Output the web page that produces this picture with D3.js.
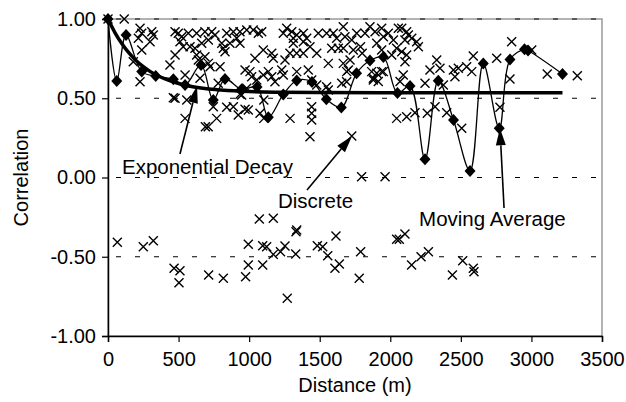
<!DOCTYPE html>
<html>
<head>
<meta charset="utf-8">
<script src="https://cdn.jsdelivr.net/npm/d3@7"></script>
<style>
  body { margin: 0; background: #fff; }
  text { font-family: Arial, "Liberation Sans", sans-serif; fill: #000; }
</style>
</head>
<body>
<svg id="chart"></svg>
<script>
let width = 626;
let height = 402;
let margin = {top: 19, right: 24, bottom: 66, left: 108};

// discrete correlations [distance, correlation]
let discrete = [
  [0,1.00],[115,1.00],[179,0.731],[227,0.604],[239,0.804],[227,0.941],[239,0.910],[215,0.878],
  [310,0.920],[321,0.899],[298,0.857],[439,0.710],
  [475,0.920],[498,0.910],[522,0.888],[569,0.910],[628,0.910],[687,0.920],[735,0.920],[758,0.899],
  [510,0.857],[533,0.825],[581,0.825],[616,0.815],[664,0.847],[711,0.868],[806,0.847],[817,0.815],
  [829,0.794],[864,0.847],[912,0.878],[935,0.847],[841,0.910],[888,0.920],[935,0.920],[983,0.931],
  [1029,0.931],[1065,0.910],[1089,0.920],
  [475,0.773],[628,0.773],[640,0.741],[687,0.762],[711,0.720],[723,0.699],[794,0.699],[781,0.594],
  [652,0.626],[546,0.647],[475,0.500],
  [1041,0.752],[1100,0.804],[1160,0.784],[1171,0.752],[1242,0.910],[1266,0.941],[1302,0.920],
  [1337,0.899],[1384,0.910],[1313,0.878],[1313,0.847],[1384,0.857],[1408,0.878],[1431,0.825],
  [1254,0.741],[1289,0.784],[1337,0.784],[1384,0.784],[1479,0.784],[1490,0.910],[1549,0.910],
  [1596,0.910],[1620,0.878],[1561,0.720],[1585,0.815],[1632,0.815],[1667,0.720],[1703,0.678],[1691,0.604],
  [971,0.678],[1006,0.668],[1018,0.636],[1054,0.615],[1100,0.647],[1136,0.668],[1160,0.636],[1183,0.604],
  [1231,0.678],[1242,0.647],[1337,0.668],[1419,0.678],[1443,0.615],[1479,0.584],[1549,0.573],
  [1561,0.552],[983,0.563],[947,0.521],[935,0.525],
  [463,0.503],[558,0.489],[546,0.373],[746,0.447],[770,0.373],[690,0.320],[710,0.320],[841,0.443],
  [888,0.447],[923,0.394],[971,0.430],[994,0.426],[1077,0.405],[1104,0.489],[1104,0.373],[1290,0.373],
  [1443,0.447],[1443,0.405],[1443,0.363],[1431,0.257],[1727,0.262],
  [1667,0.951],[1679,0.888],[1667,0.815],[1727,0.868],[1762,0.910],[1789,0.825],[1801,0.784],
  [1821,0.910],[1856,0.951],[1892,0.920],[1904,0.847],[1939,0.941],[1951,0.888],[1986,0.910],
  [2057,0.941],[2116,0.920],[2152,0.878],[2187,0.857],[2199,0.825],[2104,0.868],[2022,0.868],
  [1939,0.804],[1738,0.804],[1715,0.741],[2081,0.941],[2128,0.899],
  [1656,0.594],[1691,0.668],[1868,0.668],[1880,0.626],[1915,0.605],[1951,0.668],[2069,0.605],
  [2092,0.647],[2104,0.731],[2116,0.773],[2081,0.794],[2045,0.815],[2010,0.773],[1904,0.657],
  [1880,0.615],[1939,0.668],
  [2246,0.594],[2281,0.678],[2329,0.741],[2352,0.689],[2376,0.584],[2447,0.678],[2458,0.636],
  [2482,0.689],[2541,0.699],[2577,0.668],[2588,0.767],[2754,0.752],[2848,0.621],[2860,0.857],
  [3002,0.804],[3112,0.653],[3325,0.642],
  [2045,0.373],[2116,0.384],[2175,0.409],[2262,0.405],[2317,0.447],[2400,0.409],[2506,0.310],[2777,0.443],
  [1797,0.005],[1963,0.005],
  [66,-0.409],[250,-0.437],[321,-0.399],[468,-0.573],[510,-0.588],[503,-0.664],[713,-0.615],
  [817,-0.636],[975,-0.626],[994,-0.421],[994,-0.552],[1072,-0.262],[1096,-0.430],[1096,-0.552],
  [1124,-0.437],[1171,-0.257],[1171,-0.485],[1222,-0.468],[1254,-0.432],[1270,-0.762],[1332,-0.342],
  [1337,-0.331],[1330,-0.483],[1483,-0.430],[1521,-0.437],[1557,-0.493],[1615,-0.369],[1608,-0.573],
  [1639,-0.546],[1780,-0.635],[1790,-0.468],[2045,-0.390],[2064,-0.390],[2104,-0.356],[2151,-0.552],
  [2218,-0.500],[2270,-0.468],[2513,-0.525],[2440,-0.615],[2588,-0.573],[2593,-0.594]
];

// moving average
let maDist = [0,62,128,239,338,463,546,659,746,829,947,1056,1136,1242,1337,1445,1547,1653,1761,
  1856,1951,2051,2140,2246,2340,2448,2565,2659,2772,2848,2951,2976,3220];
let maCorr = [1.00,0.609,0.899,0.668,0.640,0.620,0.584,0.710,0.489,0.621,0.556,0.571,0.380,0.524,
  0.612,0.603,0.494,0.442,0.657,0.738,0.760,0.533,0.577,0.115,0.611,0.363,0.041,0.720,0.310,0.744,
  0.809,0.801,0.653];

// exponential decay
let decayDist = [0,50,100,150,200,250,300,400,500,600,700,800,1000,1200,1500,2000,3220];
let decayCorr = [1.00,0.913,0.842,0.784,0.737,0.699,0.668,0.623,0.593,0.573,0.560,0.552,0.542,
  0.538,0.536,0.535,0.535];

let xTicks = [0,500,1000,1500,2000,2500,3000,3500];
let yTicks = [-1.0,-0.5,0.0,0.5,1.0];

// annotations: text anchor + arrow tail/tip, in data units
let notes = [
  {label: 'Exponential Decay', tx: 99, ty: 0.022, from: [510, 0.148], to: [631, 0.577]},
  {label: 'Discrete', tx: 1204, ty: -0.192, from: [1410, -0.079], to: [1729, 0.262]},
  {label: 'Moving Average', tx: 2204, ty: -0.306, from: [2806, -0.192], to: [2777, 0.31]}
];

let svg = d3.select('#chart').attr('width', width).attr('height', height);

let x = d3.scaleLinear().domain([0, 3500]).range([margin.left, width - margin.right]);
let y = d3.scaleLinear().domain([-1, 1]).range([height - margin.bottom, margin.top]);

// plot border (gray)
svg.append('rect')
  .attr('x', x(0)).attr('y', y(1))
  .attr('width', x(3500) - x(0)).attr('height', y(-1) - y(1))
  .attr('fill', 'none').attr('stroke', '#999').attr('stroke-width', 1.5);

// gridlines
svg.append('g')
  .selectAll('line')
  .data(yTicks.filter(d => d > -1))
  .join('line')
  .attr('x1', x(0)).attr('x2', x(3500))
  .attr('y1', d => y(d)).attr('y2', d => y(d))
  .attr('stroke', '#000').attr('stroke-width', 1)
  .attr('stroke-dasharray', '5,14')
  .attr('stroke-dashoffset', -8);

// axes
let xAxis = svg.append('g')
  .attr('transform', `translate(0,${y(-1)})`)
  .call(d3.axisBottom(x).tickValues(xTicks).tickSize(6).tickPadding(10).tickFormat(d3.format('d')));
let yAxis = svg.append('g')
  .attr('transform', `translate(${x(0)},0)`)
  .call(d3.axisLeft(y).tickValues(yTicks).tickSize(6).tickPadding(6).tickFormat(d => d.toFixed(2)));
[xAxis, yAxis].forEach(a => {
  a.select('.domain').attr('stroke', '#000').attr('stroke-width', 1.5);
  a.selectAll('.tick line').attr('stroke', '#000').attr('stroke-width', 1.2);
  a.selectAll('text').style('font-size', '20px').attr('fill', '#000')
    .style('font-family', 'Arial, "Liberation Sans", sans-serif');
});

// axis titles
svg.append('text')
  .attr('x', (x(0) + x(3500)) / 2).attr('y', 392)
  .attr('text-anchor', 'middle').style('font-size', '20px')
  .text('Distance (m)');
svg.append('text')
  .attr('transform', `translate(28,${(y(1) + y(-1)) / 2}) rotate(-90)`)
  .attr('text-anchor', 'middle').style('font-size', '20px')
  .text('Correlation');

// discrete points (x marks)
let s = 4.5;
svg.append('g')
  .attr('stroke', '#000').attr('stroke-width', 1.4).attr('fill', 'none')
  .selectAll('path')
  .data(discrete)
  .join('path')
  .attr('d', d => {
    let px = x(d[0]), py = y(d[1]);
    return `M${px - s},${py - s}L${px + s},${py + s}M${px - s},${py + s}L${px + s},${py - s}`;
  });

// exponential decay
let decay = decayDist.map((d, i) => [d, decayCorr[i]]);
svg.append('path')
  .datum(decay)
  .attr('fill', 'none').attr('stroke', '#000').attr('stroke-width', 3.5)
  .attr('d', d3.line().x(d => x(d[0])).y(d => y(d[1])).curve(d3.curveMonotoneX));

// moving average
let ma = maDist.map((d, i) => [d, maCorr[i]]);
svg.append('path')
  .datum(ma)
  .attr('fill', 'none').attr('stroke', '#000').attr('stroke-width', 1.3)
  .attr('d', d3.line().x(d => x(d[0])).y(d => y(d[1])).curve(d3.curveCatmullRom.alpha(0.5)));
svg.append('g')
  .selectAll('path')
  .data(ma)
  .join('path')
  .attr('transform', d => `translate(${x(d[0])},${y(d[1])})`)
  .attr('d', 'M0,-6L5.5,0L0,6L-5.5,0Z')
  .attr('fill', '#000');

// annotations
let ann = svg.append('g');
notes.forEach(n => {
  let x1 = x(n.from[0]), y1 = y(n.from[1]);
  let x2 = x(n.to[0]), y2 = y(n.to[1]);
  let ang = Math.atan2(y2 - y1, x2 - x1);
  let len = 17, half = 5;
  let bx = x2 - len * Math.cos(ang), by = y2 - len * Math.sin(ang);
  ann.append('line')
    .attr('x1', x1).attr('y1', y1).attr('x2', bx).attr('y2', by)
    .attr('stroke', '#000').attr('stroke-width', 1.6);
  ann.append('path')
    .attr('d', `M${x2},${y2}L${bx + half * Math.sin(ang)},${by - half * Math.cos(ang)}` +
      `L${bx - half * Math.sin(ang)},${by + half * Math.cos(ang)}Z`)
    .attr('fill', '#000');
  ann.append('text')
    .attr('x', x(n.tx)).attr('y', y(n.ty))
    .style('font-size', '20.5px')
    .text(n.label);
});
</script>
</body>
</html>
